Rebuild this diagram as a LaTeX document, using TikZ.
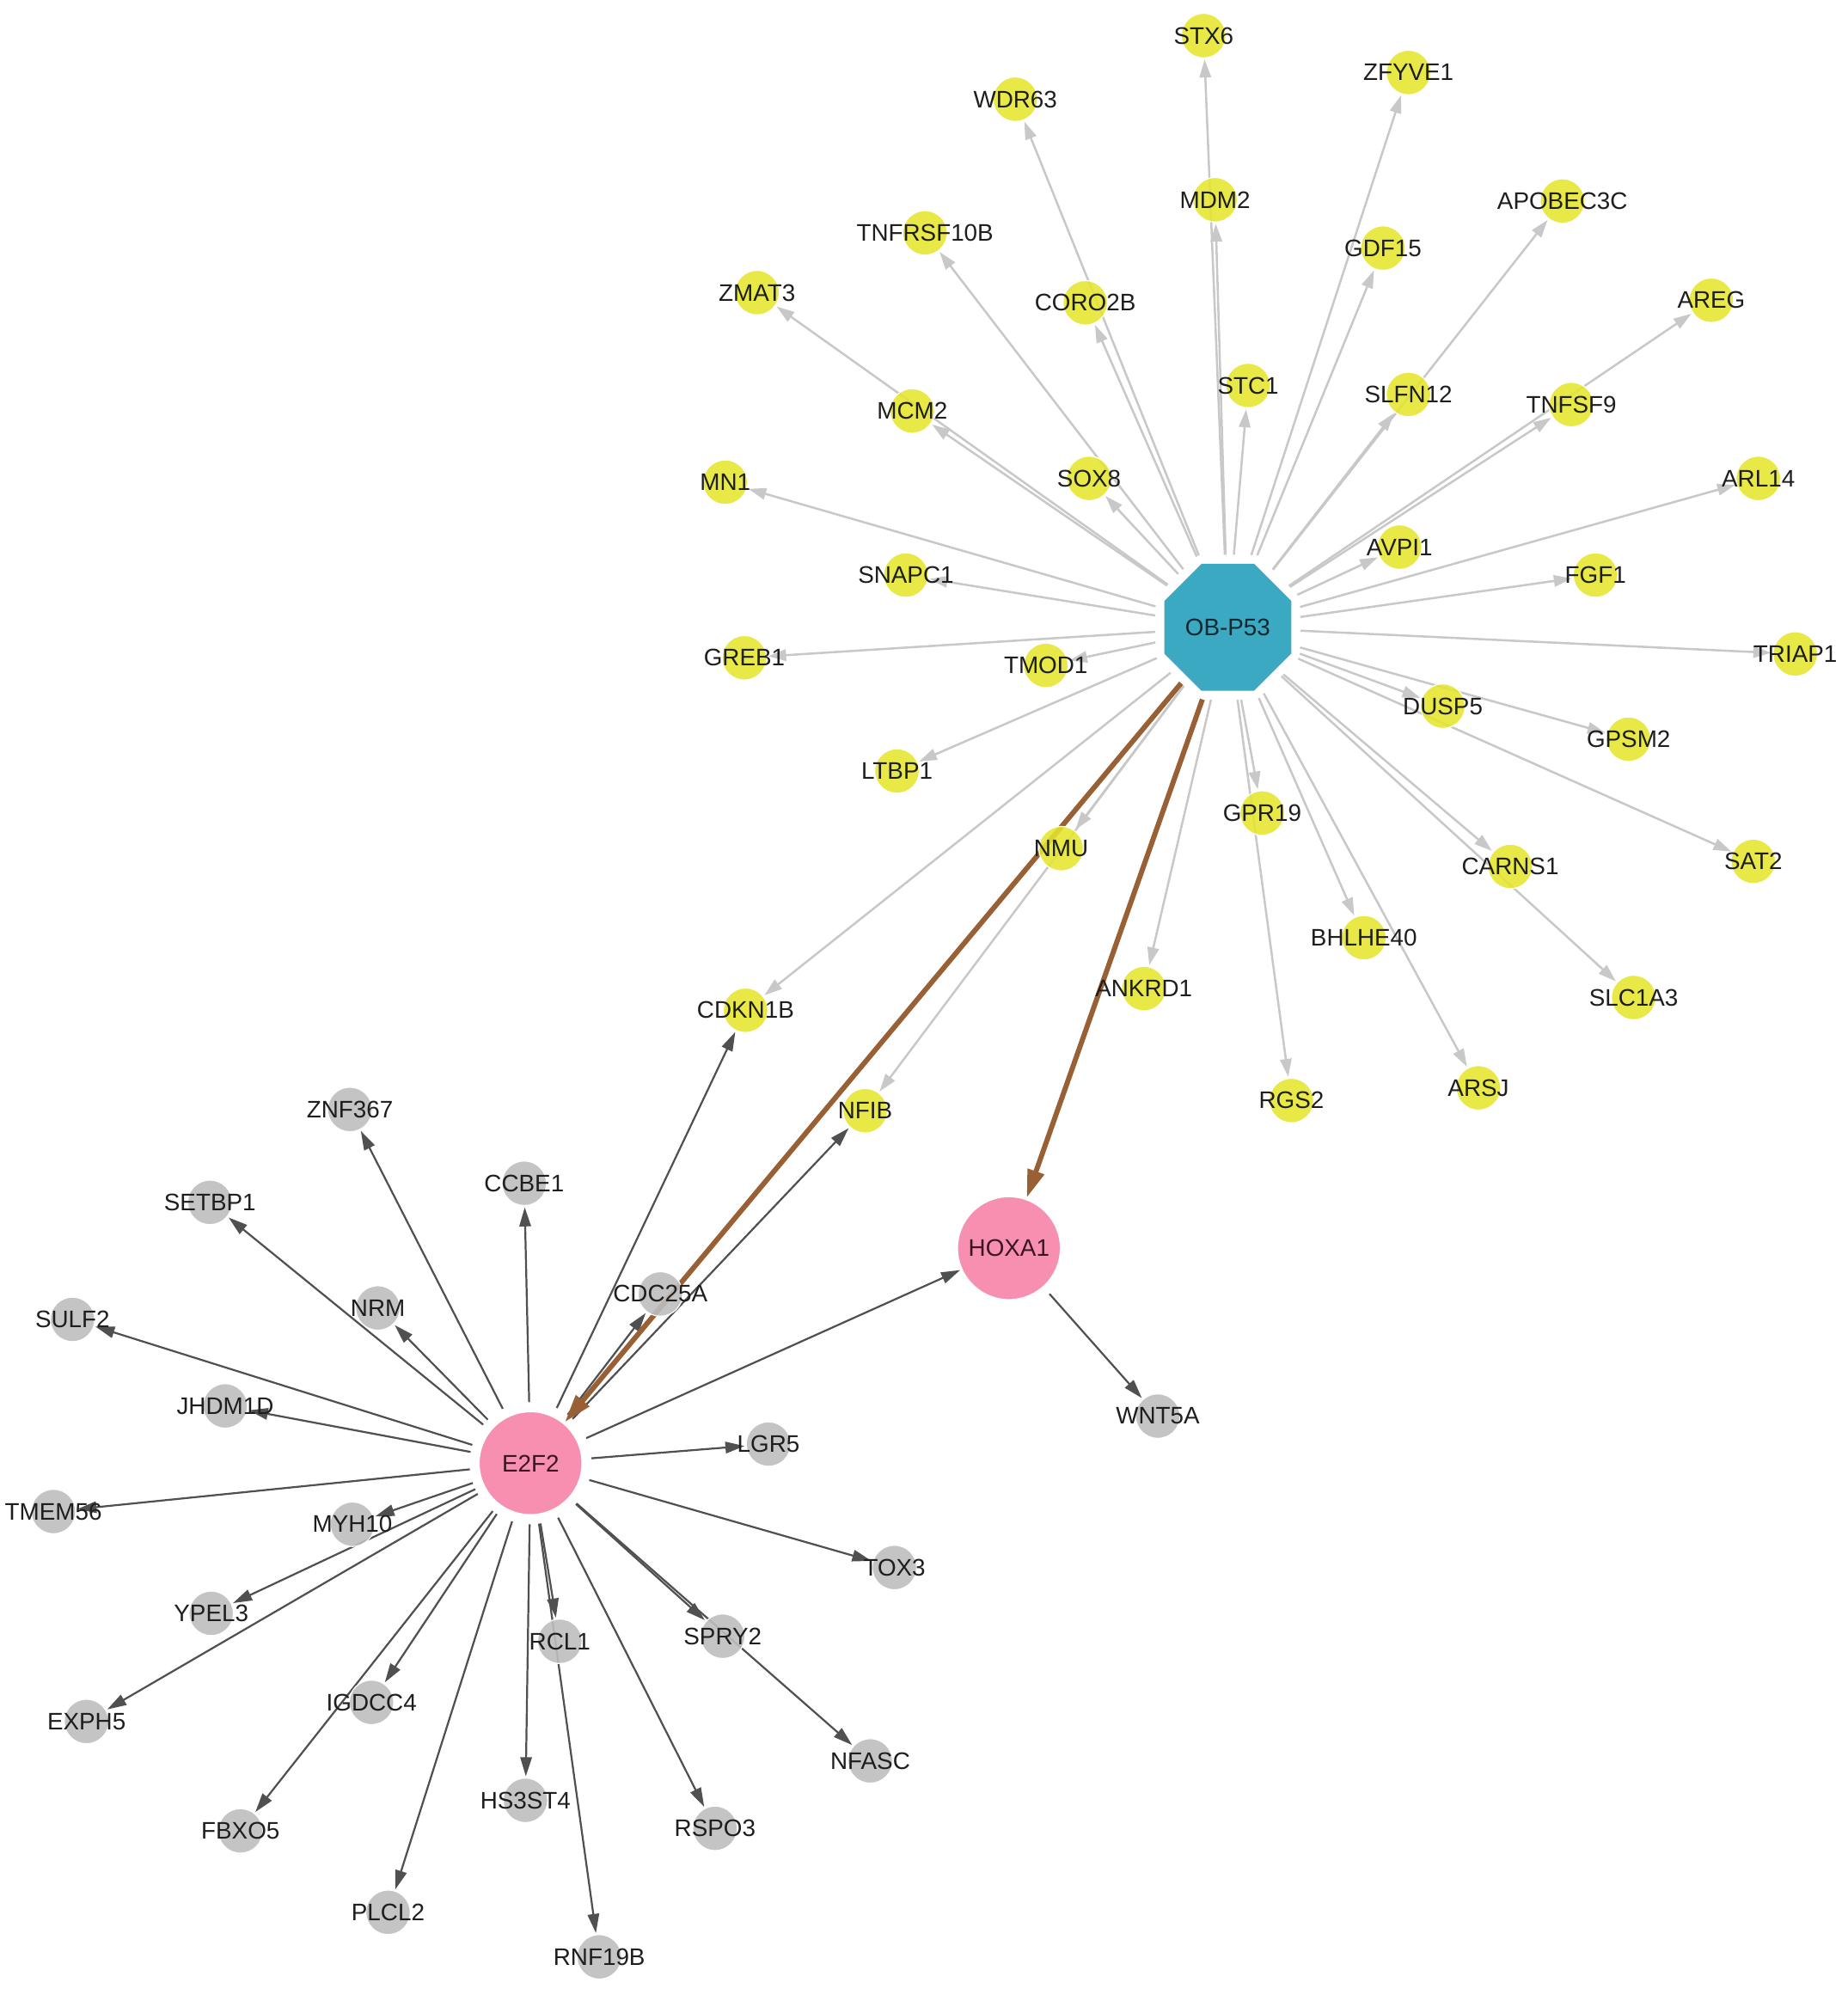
\documentclass[tikz,border=0pt]{standalone}
\usepackage{fontspec}
\setmainfont{Liberation Sans}
\usetikzlibrary{shapes.geometric,arrows.meta,backgrounds}
\definecolor{cyel}{RGB}{229,229,45}
\definecolor{cgry}{RGB}{190,190,190}
\definecolor{cteal}{RGB}{59,169,193}
\definecolor{cpink}{RGB}{247,143,176}
\definecolor{clight}{RGB}{200,200,200}
\definecolor{cdark}{RGB}{80,80,80}
\definecolor{cbrown}{RGB}{152,96,52}
\definecolor{txt}{RGB}{30,30,30}
\newcommand\Yn[3]{\node[yn,label={[lbl]center:#3}] (#1) at (#2) {};}
\newcommand\Gn[3]{\node[gn,label={[lbl]center:#3}] (#1) at (#2) {};}
\begin{document}
\begin{tikzpicture}[x=1pt,y=-1pt,
  lbl/.style={font=\fontsize{18.8}{20}\selectfont, text=txt, inner sep=0pt, fill opacity=1, text opacity=1},
  yn/.style={circle, fill=cyel, fill opacity=0.88, draw=white, line width=0.8pt, minimum size=35pt, inner sep=0pt},
  gn/.style={circle, fill=cgry, fill opacity=0.9, draw=white, line width=0.8pt, minimum size=35pt, inner sep=0pt},
  bign/.style={circle, fill=cpink, draw=white, line width=1pt, minimum size=81pt, inner sep=0pt, font=\fontsize{18.8}{20}\selectfont, text={rgb,255:red,60;green,20;blue,36}},
  octn/.style={regular polygon, regular polygon sides=8, fill=cteal, minimum size=108pt, inner sep=0pt, font=\fontsize{18.8}{20}\selectfont, text={rgb,255:red,15;green,40;blue,50}},
  le/.style={draw=clight, line width=1.7pt, -{Triangle[length=14pt,width=9pt]}, shorten <=7pt, shorten >=1pt},
  de/.style={draw=cdark, line width=1.5pt, -{Triangle[length=15pt,width=9pt]}, shorten <=7pt, shorten >=1pt},
  be/.style={draw=cbrown, line width=4pt, -{Triangle[length=22pt,width=13pt]}, shorten <=7pt, shorten >=1pt},
]
\useasboundingbox (0,0) rectangle (1452,1568);
% yellow targets of OB-P53
\Yn{STX6}{946,28}{STX6}
\Yn{WDR63}{798,78}{WDR63}
\Yn{ZFYVE1}{1107,57}{ZFYVE1}
\Yn{MDM2}{955,157}{MDM2}
\Yn{APOBEC3C}{1228,158}{APOBEC3C}
\Yn{TNFRSF10B}{727,183}{TNFRSF10B}
\Yn{GDF15}{1087,195}{GDF15}
\Yn{CORO2B}{853,238}{CORO2B}
\Yn{ZMAT3}{595,230}{ZMAT3}
\Yn{AREG}{1345,236}{AREG}
\Yn{STC1}{981,303}{STC1}
\Yn{SLFN12}{1107,310}{SLFN12}
\Yn{TNFSF9}{1235,318}{TNFSF9}
\Yn{MCM2}{717,323}{MCM2}
\Yn{SOX8}{856,376}{SOX8}
\Yn{MN1}{570,379}{MN1}
\Yn{ARL14}{1382,376}{ARL14}
\Yn{AVPI1}{1100,430}{AVPI1}
\Yn{SNAPC1}{712,452}{SNAPC1}
\Yn{FGF1}{1254,452}{FGF1}
\Yn{GREB1}{585,517}{GREB1}
\Yn{TMOD1}{822,523}{TMOD1}
\Yn{TRIAP1}{1411,514}{TRIAP1}
\Yn{DUSP5}{1134,555}{DUSP5}
\Yn{GPSM2}{1280,581}{GPSM2}
\Yn{LTBP1}{705,606}{LTBP1}
\Yn{NMU}{834,667}{NMU}
\Yn{GPR19}{992,639}{GPR19}
\Yn{SAT2}{1378,677}{SAT2}
\Yn{CARNS1}{1187,681}{CARNS1}
\Yn{BHLHE40}{1072,737}{BHLHE40}
\Yn{SLC1A3}{1284,784}{SLC1A3}
\Yn{ANKRD1}{899,777}{ANKRD1}
\Yn{CDKN1B}{586,794}{CDKN1B}
\Yn{RGS2}{1015,865}{RGS2}
\Yn{ARSJ}{1162,855}{ARSJ}
\Yn{NFIB}{680,873}{NFIB}
% grey targets of E2F2
\Gn{ZNF367}{275,872}{ZNF367}
\Gn{CCBE1}{412,930}{CCBE1}
\Gn{SETBP1}{165,945}{SETBP1}
\Gn{NRM}{297,1028}{NRM}
\Gn{CDC25A}{519,1017}{CDC25A}
\Gn{SULF2}{57,1037}{SULF2}
\Gn{JHDM1D}{177,1105}{JHDM1D}
\Gn{LGR5}{604,1135}{LGR5}
\Gn{WNT5A}{910,1113}{WNT5A}
\Gn{TMEM56}{42,1188}{TMEM56}
\Gn{MYH10}{277,1198}{MYH10}
\Gn{TOX3}{703,1232}{TOX3}
\Gn{YPEL3}{166,1268}{YPEL3}
\Gn{RCL1}{440,1290}{RCL1}
\Gn{SPRY2}{568,1286}{SPRY2}
\Gn{IGDCC4}{292,1338}{IGDCC4}
\Gn{EXPH5}{68,1353}{EXPH5}
\Gn{NFASC}{684,1384}{NFASC}
\Gn{HS3ST4}{413,1415}{HS3ST4}
\Gn{FBXO5}{189,1439}{FBXO5}
\Gn{RSPO3}{562,1437}{RSPO3}
\Gn{PLCL2}{305,1503}{PLCL2}
\Gn{RNF19B}{471,1538}{RNF19B}
% hubs
\node[octn] (p53) at (965,493) {OB-P53};
\node[bign] (E2F2) at (417,1150) {E2F2};
\node[bign] (HOXA1) at (793,981) {HOXA1};
\begin{scope}[on background layer]
\foreach \t in {STX6,WDR63,ZFYVE1,MDM2,APOBEC3C,TNFRSF10B,GDF15,CORO2B,ZMAT3,AREG,STC1,SLFN12,TNFSF9,MCM2,SOX8,MN1,ARL14,AVPI1,SNAPC1,FGF1,GREB1,TMOD1,TRIAP1,DUSP5,GPSM2,LTBP1,NMU,GPR19,SAT2,CARNS1,BHLHE40,SLC1A3,ANKRD1,CDKN1B,RGS2,ARSJ,NFIB}
  \draw[le] (p53) -- (\t);
\foreach \t in {ZNF367,CCBE1,SETBP1,NRM,CDC25A,SULF2,JHDM1D,LGR5,TMEM56,MYH10,TOX3,YPEL3,RCL1,SPRY2,IGDCC4,EXPH5,NFASC,HS3ST4,FBXO5,RSPO3,PLCL2,RNF19B,NFIB,CDKN1B,HOXA1}
  \draw[de] (E2F2) -- (\t);
\draw[de] (HOXA1) -- (WNT5A);
\draw[be] (p53) -- (E2F2);
\draw[be] (p53) -- (HOXA1);
\end{scope}
\end{tikzpicture}
\end{document}
